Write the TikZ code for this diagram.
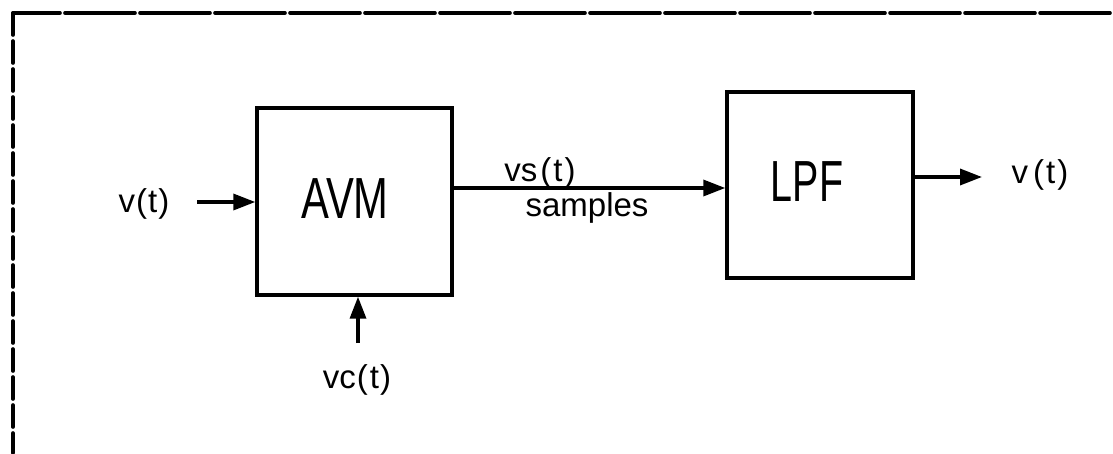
\documentclass[tikz,border=0pt]{standalone}
\usepackage{fontspec}
\setmainfont{Liberation Sans}
\usetikzlibrary{arrows.meta}
\begin{document}
\begin{tikzpicture}[x=1pt,y=1pt,
  blk/.style={draw,line width=3.4pt,inner sep=0pt},
  arr/.style={line width=3.4pt,-{Triangle[length=22pt,width=16pt]}},
  lab/.style={inner sep=0pt,font=\fontsize{33}{36}\selectfont},
  big/.style={inner sep=0pt,font=\fontsize{58}{62}\selectfont},
  border/.style={line width=3.6pt,line cap=round}]
\useasboundingbox (0,0) rectangle (1113,-453);
% dashed frame
\draw[border,dash pattern=on 70pt off 5pt] (1110,-13) -- (13,-13);
\draw[border,dash pattern=on 22pt off 6pt] (13,-13) -- (13,-453);
% blocks
\node[blk,minimum width=195pt,minimum height=187pt] (avm) at (354.5,-201.5) {};
\node[big] (avmt) at (345,-199) {\scalebox{0.72}[1]{AVM}};
\node[blk,minimum width=186pt,minimum height=186pt] (lpf) at (820,-185) {};
\node[big] (lpft) at (807,-182) {\scalebox{0.68}[1]{LPF}};
% labels
\node[lab] (vin) at (144,-204) {v\kern1pt(\kern1pt t\kern1pt)};
\node[lab] (vout) at (1040,-175) {v\kern5pt(\kern2pt t\kern2pt)};
\node[lab] (vs) at (540,-173) {vs\kern3pt(\kern2pt t\kern2pt)};
\node[lab] (smp) at (587,-208) {samples};
\node[lab] (vc) at (357,-380) {vc\kern1pt(\kern2pt t\kern1pt)};
% connectors
\coordinate (inS) at (197,-202);
\coordinate (mid) at (0,-188);
\coordinate (outE) at (982,-177);
\coordinate (vcS) at (358,-343);
\draw[arr] (inS) -- (avm.west |- inS);
\draw[arr] (avm.east |- mid) -- (lpf.west |- mid);
\draw[arr] (lpf.east |- outE) -- (outE);
\draw[arr] (vcS) -- (vcS |- avm.south);
\end{tikzpicture}
\end{document}
